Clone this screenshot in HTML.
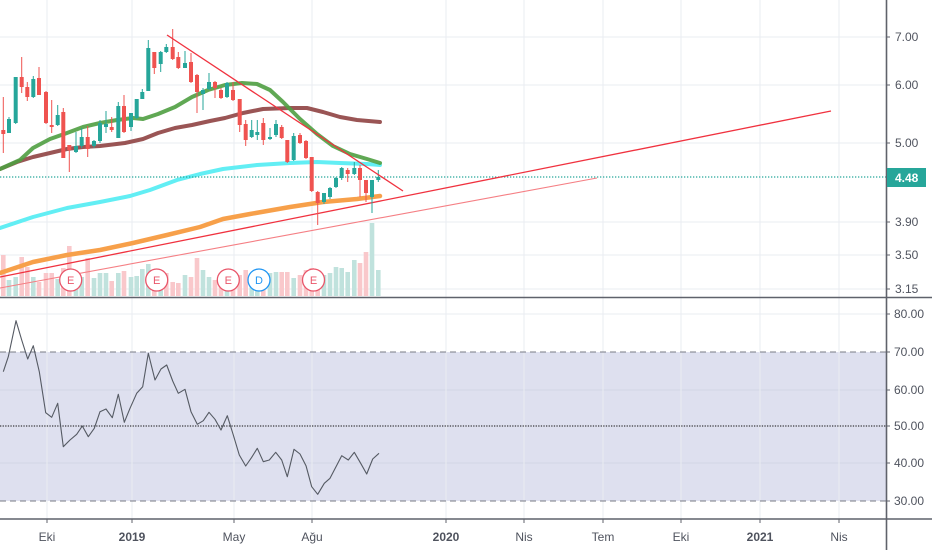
<!DOCTYPE html>
<html><head><meta charset="utf-8"><style>
html,body{margin:0;padding:0;background:#fff;}
svg{display:block;font-family:"Liberation Sans",sans-serif;}
</style></head><body>
<svg width="932" height="550" viewBox="0 0 932 550" xmlns="http://www.w3.org/2000/svg">
<rect width="932" height="550" fill="#fff"/>
<!-- RSI band -->
<rect x="0" y="352" width="886" height="149" fill="#dee0ef"/>
<!-- grid -->
<g stroke="#eaecf2" stroke-width="1">
<line x1="0" y1="37" x2="886" y2="37"/><line x1="0" y1="85" x2="886" y2="85"/><line x1="0" y1="143" x2="886" y2="143"/><line x1="0" y1="222" x2="886" y2="222"/><line x1="0" y1="255" x2="886" y2="255"/><line x1="0" y1="289" x2="886" y2="289"/>
<line x1="0" y1="314" x2="886" y2="314"/><line x1="0" y1="390" x2="886" y2="390" stroke="#d3d6e6"/><line x1="0" y1="463" x2="886" y2="463" stroke="#d3d6e6"/>
<line x1="47" y1="0" x2="47" y2="519"/><line x1="132" y1="0" x2="132" y2="519"/><line x1="234" y1="0" x2="234" y2="519"/><line x1="312" y1="0" x2="312" y2="519"/><line x1="446" y1="0" x2="446" y2="519"/><line x1="524" y1="0" x2="524" y2="519"/><line x1="603" y1="0" x2="603" y2="519"/><line x1="681" y1="0" x2="681" y2="519"/><line x1="760" y1="0" x2="760" y2="519"/><line x1="839" y1="0" x2="839" y2="519"/>
</g>
<!-- volume -->
<g>
<rect x="1" y="255" width="4.6" height="41" fill="#f9c8cb"/>
<rect x="6.7" y="280" width="4.6" height="16" fill="#c0e2dd"/>
<rect x="13.4" y="277" width="4.6" height="19" fill="#c0e2dd"/>
<rect x="19.4" y="257" width="4.6" height="39" fill="#f9c8cb"/>
<rect x="25" y="267" width="4.6" height="29" fill="#f9c8cb"/>
<rect x="31" y="277" width="4.6" height="19" fill="#c0e2dd"/>
<rect x="36.7" y="282" width="4.6" height="14" fill="#f9c8cb"/>
<rect x="43.7" y="273" width="4.6" height="23" fill="#f9c8cb"/>
<rect x="49.4" y="273" width="4.6" height="23" fill="#f9c8cb"/>
<rect x="55.4" y="279" width="4.6" height="17" fill="#c0e2dd"/>
<rect x="61" y="268" width="4.6" height="28" fill="#f9c8cb"/>
<rect x="67" y="246" width="4.6" height="50" fill="#f9c8cb"/>
<rect x="73.7" y="275" width="4.6" height="21" fill="#c0e2dd"/>
<rect x="79.4" y="277" width="4.6" height="19" fill="#c0e2dd"/>
<rect x="85.4" y="258" width="4.6" height="38" fill="#f9c8cb"/>
<rect x="91.7" y="278" width="4.6" height="18" fill="#c0e2dd"/>
<rect x="97.7" y="273" width="4.6" height="23" fill="#c0e2dd"/>
<rect x="103.7" y="273" width="4.6" height="23" fill="#c0e2dd"/>
<rect x="109.4" y="281" width="4.6" height="15" fill="#f9c8cb"/>
<rect x="116" y="273" width="4.6" height="23" fill="#c0e2dd"/>
<rect x="121.7" y="271" width="4.6" height="25" fill="#f9c8cb"/>
<rect x="128.7" y="277" width="4.6" height="19" fill="#c0e2dd"/>
<rect x="134.4" y="276" width="4.6" height="20" fill="#c0e2dd"/>
<rect x="140" y="269" width="4.6" height="27" fill="#c0e2dd"/>
<rect x="146" y="264" width="4.6" height="32" fill="#c0e2dd"/>
<rect x="152" y="270" width="4.6" height="26" fill="#f9c8cb"/>
<rect x="158.4" y="275" width="4.6" height="21" fill="#c0e2dd"/>
<rect x="164" y="273" width="4.6" height="23" fill="#f9c8cb"/>
<rect x="170.4" y="282" width="4.6" height="14" fill="#f9c8cb"/>
<rect x="176" y="283" width="4.6" height="13" fill="#f9c8cb"/>
<rect x="182.7" y="275" width="4.6" height="21" fill="#c0e2dd"/>
<rect x="188.7" y="277" width="4.6" height="19" fill="#f9c8cb"/>
<rect x="194.7" y="258" width="4.6" height="38" fill="#f9c8cb"/>
<rect x="200.7" y="270" width="4.6" height="26" fill="#c0e2dd"/>
<rect x="206.7" y="277" width="4.6" height="19" fill="#c0e2dd"/>
<rect x="212.7" y="280" width="4.6" height="16" fill="#f9c8cb"/>
<rect x="218.7" y="276" width="4.6" height="20" fill="#f9c8cb"/>
<rect x="224.7" y="275" width="4.6" height="21" fill="#c0e2dd"/>
<rect x="230.7" y="277" width="4.6" height="19" fill="#f9c8cb"/>
<rect x="237.4" y="275" width="4.6" height="21" fill="#f9c8cb"/>
<rect x="243.4" y="270" width="4.6" height="26" fill="#f9c8cb"/>
<rect x="249.4" y="276" width="4.6" height="20" fill="#c0e2dd"/>
<rect x="255" y="274" width="4.6" height="22" fill="#c0e2dd"/>
<rect x="261" y="277" width="4.6" height="19" fill="#f9c8cb"/>
<rect x="267.7" y="273" width="4.6" height="23" fill="#c0e2dd"/>
<rect x="273.7" y="272" width="4.6" height="24" fill="#c0e2dd"/>
<rect x="279.4" y="272" width="4.6" height="24" fill="#f9c8cb"/>
<rect x="285" y="272" width="4.6" height="24" fill="#f9c8cb"/>
<rect x="291.4" y="278" width="4.6" height="18" fill="#c0e2dd"/>
<rect x="297.7" y="275" width="4.6" height="21" fill="#f9c8cb"/>
<rect x="303.7" y="270" width="4.6" height="26" fill="#f9c8cb"/>
<rect x="309.4" y="268" width="4.6" height="28" fill="#f9c8cb"/>
<rect x="315.4" y="272" width="4.6" height="24" fill="#f9c8cb"/>
<rect x="321.7" y="275" width="4.6" height="21" fill="#c0e2dd"/>
<rect x="327.7" y="273" width="4.6" height="23" fill="#c0e2dd"/>
<rect x="333.7" y="267" width="4.6" height="29" fill="#c0e2dd"/>
<rect x="339.4" y="268" width="4.6" height="28" fill="#c0e2dd"/>
<rect x="345.4" y="272" width="4.6" height="24" fill="#c0e2dd"/>
<rect x="352" y="260" width="4.6" height="36" fill="#c0e2dd"/>
<rect x="357.7" y="263" width="4.6" height="33" fill="#f9c8cb"/>
<rect x="363.7" y="252" width="4.6" height="44" fill="#f9c8cb"/>
<rect x="369.7" y="223" width="4.6" height="73" fill="#c0e2dd"/>
<rect x="376" y="270" width="4.6" height="26" fill="#c0e2dd"/>
</g>
<!-- moving averages -->
<g fill="none" stroke-linejoin="round" stroke-linecap="round">
<polyline stroke="#f7a04a" stroke-width="4.5" points="0,273 33,262 67,255 100,250 133,243 167,235 200,227 223,219 250,214 290,207 323,202 357,199 380,196"/>
<polyline stroke="#62eef4" stroke-width="4" points="0,228 33,217 67,208 100,202 130,196 150,190 177,180 200,174 223,169 257,165 290,163 317,162 340,163 367,164 380,165"/>
<polyline stroke="#8f4343" stroke-opacity="0.9" stroke-width="4" points="0,169 17,162 33,157 50,153 67,149 83,147 100,146 125,143 143,139 158,133 175,128 192,125 210,121 225,118 243,113 263,109 290,108 307,108 323,112 340,117 357,120 380,122"/>
<polyline stroke="#4f9f41" stroke-opacity="0.9" stroke-width="4" points="0,169 20,160 33,148 50,139 67,133 83,127 100,123 117,120 133,118 143,119 158,114 175,107 192,97 208,90 225,85 242,83 257,84 270,90 283,102 300,119 317,134 333,146 350,154 367,159 380,163"/>
</g>
<!-- price line -->
<line x1="0" y1="177" x2="886" y2="177" stroke="#26a69a" stroke-width="1.2" stroke-dasharray="1.3,1.7"/>
<!-- trend lines -->
<line x1="0" y1="288" x2="597" y2="178" stroke="#f57f84" stroke-width="1.1"/>
<line x1="0" y1="277" x2="831" y2="111" stroke="#f0323f" stroke-width="1.3"/>
<!-- candles -->
<g stroke-width="1">
<g stroke="#ef5350" fill="#ef5350">
<line x1="3.3" y1="97" x2="3.3" y2="153"/><rect x="1.3" y="130" width="4" height="4" stroke="none"/>
<line x1="21.7" y1="57" x2="21.7" y2="93"/><rect x="19.7" y="77" width="4" height="10" stroke="none"/>
<line x1="27.3" y1="82" x2="27.3" y2="101"/><rect x="25.3" y="87" width="4" height="10" stroke="none"/>
<line x1="39" y1="67" x2="39" y2="95"/><rect x="37" y="78" width="4" height="17" stroke="none"/>
<line x1="46" y1="91" x2="46" y2="124"/><rect x="44" y="92" width="4" height="31" stroke="none"/>
<line x1="51.7" y1="100" x2="51.7" y2="133"/><rect x="49.7" y="125" width="4" height="2" stroke="none"/>
<line x1="63.3" y1="108" x2="63.3" y2="158"/><rect x="61.3" y="112" width="4" height="46" stroke="none"/>
<line x1="69.3" y1="145" x2="69.3" y2="172"/><rect x="67.3" y="145" width="4" height="5" stroke="none"/>
<line x1="87.7" y1="126" x2="87.7" y2="157"/><rect x="85.7" y="137" width="4" height="12" stroke="none"/>
<line x1="111.7" y1="117" x2="111.7" y2="132"/><rect x="109.7" y="127" width="4" height="3" stroke="none"/>
<line x1="124" y1="95" x2="124" y2="133"/><rect x="122" y="106" width="4" height="26" stroke="none"/>
<line x1="154.3" y1="52" x2="154.3" y2="74"/><rect x="152.3" y="52" width="4" height="16" stroke="none"/>
<line x1="172.7" y1="29" x2="172.7" y2="60"/><rect x="170.7" y="47" width="4" height="12" stroke="none"/>
<line x1="178.3" y1="52" x2="178.3" y2="69"/><rect x="176.3" y="57" width="4" height="11" stroke="none"/>
<line x1="191" y1="53" x2="191" y2="83"/><rect x="189" y="62" width="4" height="20" stroke="none"/>
<line x1="197" y1="74" x2="197" y2="113"/><rect x="195" y="75" width="4" height="17" stroke="none"/>
<line x1="215" y1="81" x2="215" y2="98"/><rect x="213" y="82" width="4" height="6" stroke="none"/>
<line x1="221" y1="88" x2="221" y2="99"/><rect x="219" y="90" width="4" height="8" stroke="none"/>
<line x1="233" y1="82" x2="233" y2="101"/><rect x="231" y="90" width="4" height="10" stroke="none"/>
<line x1="239.7" y1="99" x2="239.7" y2="132"/><rect x="237.7" y="99" width="4" height="26" stroke="none"/>
<line x1="245.7" y1="120" x2="245.7" y2="146"/><rect x="243.7" y="124" width="4" height="16" stroke="none"/>
<line x1="263.3" y1="118" x2="263.3" y2="145"/><rect x="261.3" y="123" width="4" height="17" stroke="none"/>
<line x1="281.7" y1="125" x2="281.7" y2="139"/><rect x="279.7" y="127" width="4" height="11" stroke="none"/>
<line x1="287.3" y1="140" x2="287.3" y2="163"/><rect x="285.3" y="140" width="4" height="22" stroke="none"/>
<line x1="300" y1="133" x2="300" y2="144"/><rect x="298" y="135" width="4" height="8" stroke="none"/>
<line x1="306" y1="140" x2="306" y2="159"/><rect x="304" y="141" width="4" height="17" stroke="none"/>
<line x1="311.7" y1="157" x2="311.7" y2="192"/><rect x="309.7" y="157" width="4" height="34" stroke="none"/>
<line x1="317.7" y1="191" x2="317.7" y2="225"/><rect x="315.7" y="192" width="4" height="11" stroke="none"/>
<line x1="347.7" y1="168" x2="347.7" y2="182"/><rect x="345.7" y="170" width="4" height="4" stroke="none"/>
<line x1="360" y1="165" x2="360" y2="197"/><rect x="358" y="168" width="4" height="12" stroke="none"/>
<line x1="366" y1="180" x2="366" y2="202"/><rect x="364" y="180" width="4" height="13" stroke="none"/>
</g>
<g stroke="#26a69a" fill="#26a69a">
<line x1="9" y1="117" x2="9" y2="133"/><rect x="7" y="119" width="4" height="14" stroke="none"/>
<line x1="15.7" y1="77" x2="15.7" y2="124"/><rect x="13.7" y="77" width="4" height="46" stroke="none"/>
<line x1="33.3" y1="76" x2="33.3" y2="98"/><rect x="31.3" y="79" width="4" height="18" stroke="none"/>
<line x1="57.7" y1="105" x2="57.7" y2="126"/><rect x="55.7" y="115" width="4" height="10" stroke="none"/>
<line x1="76" y1="132" x2="76" y2="153"/><rect x="74" y="146" width="4" height="6" stroke="none"/>
<line x1="81.7" y1="128" x2="81.7" y2="148"/><rect x="79.7" y="137" width="4" height="9" stroke="none"/>
<line x1="94" y1="140" x2="94" y2="148"/><rect x="92" y="141" width="4" height="5" stroke="none"/>
<line x1="100" y1="120" x2="100" y2="143"/><rect x="98" y="123" width="4" height="18" stroke="none"/>
<line x1="106" y1="111" x2="106" y2="133"/><rect x="104" y="124" width="4" height="3" stroke="none"/>
<line x1="118.3" y1="102" x2="118.3" y2="138"/><rect x="116.3" y="106" width="4" height="32" stroke="none"/>
<line x1="131" y1="113" x2="131" y2="131"/><rect x="129" y="113" width="4" height="14" stroke="none"/>
<line x1="136.7" y1="99" x2="136.7" y2="119"/><rect x="134.7" y="99" width="4" height="19" stroke="none"/>
<line x1="142.3" y1="89" x2="142.3" y2="99"/><rect x="140.3" y="92" width="4" height="7" stroke="none"/>
<line x1="148.3" y1="40" x2="148.3" y2="91"/><rect x="146.3" y="48" width="4" height="43" stroke="none"/>
<line x1="160.7" y1="51" x2="160.7" y2="72"/><rect x="158.7" y="52" width="4" height="12" stroke="none"/>
<line x1="166.3" y1="44" x2="166.3" y2="53"/><rect x="164.3" y="47" width="4" height="5" stroke="none"/>
<line x1="185" y1="51" x2="185" y2="68"/><rect x="183" y="63" width="4" height="5" stroke="none"/>
<line x1="203" y1="88" x2="203" y2="110"/><rect x="201" y="90" width="4" height="4" stroke="none"/>
<line x1="209" y1="73" x2="209" y2="90"/><rect x="207" y="82" width="4" height="7" stroke="none"/>
<line x1="227" y1="82" x2="227" y2="98"/><rect x="225" y="83" width="4" height="14" stroke="none"/>
<line x1="251.7" y1="120" x2="251.7" y2="138"/><rect x="249.7" y="130" width="4" height="7" stroke="none"/>
<line x1="257.3" y1="120" x2="257.3" y2="140"/><rect x="255.3" y="132" width="4" height="3" stroke="none"/>
<line x1="270" y1="128" x2="270" y2="140"/><rect x="268" y="137" width="4" height="2" stroke="none"/>
<line x1="276" y1="120" x2="276" y2="137"/><rect x="274" y="124" width="4" height="11" stroke="none"/>
<line x1="293.7" y1="133" x2="293.7" y2="161"/><rect x="291.7" y="136" width="4" height="24" stroke="none"/>
<line x1="324" y1="193" x2="324" y2="204"/><rect x="322" y="193" width="4" height="9" stroke="none"/>
<line x1="330" y1="187" x2="330" y2="199"/><rect x="328" y="188" width="4" height="9" stroke="none"/>
<line x1="336" y1="177" x2="336" y2="188"/><rect x="334" y="178" width="4" height="9" stroke="none"/>
<line x1="341.7" y1="167" x2="341.7" y2="180"/><rect x="339.7" y="168" width="4" height="10" stroke="none"/>
<line x1="354.3" y1="162" x2="354.3" y2="175"/><rect x="352.3" y="168" width="4" height="6" stroke="none"/>
<line x1="372" y1="180" x2="372" y2="213"/><rect x="370" y="180" width="4" height="17" stroke="none"/>
<line x1="378.3" y1="170" x2="378.3" y2="182"/><rect x="376.3" y="177" width="4" height="3" stroke="none"/>
</g>
</g>
<line x1="167" y1="35" x2="403" y2="191" stroke="#f0323f" stroke-width="1.3"/>
<!-- event markers -->
<g font-size="11" text-anchor="middle" stroke-width="1.3">
<circle cx="70.7" cy="280" r="11" fill="#fff" stroke="#e9566a"/><text x="70.7" y="284" fill="#e9566a" stroke="none">E</text>
<circle cx="156.7" cy="280" r="11" fill="#fff" stroke="#e9566a"/><text x="156.7" y="284" fill="#e9566a" stroke="none">E</text>
<circle cx="228.3" cy="280" r="11" fill="#fff" stroke="#e9566a"/><text x="228.3" y="284" fill="#e9566a" stroke="none">E</text>
<circle cx="259" cy="280" r="11" fill="#fff" stroke="#2196f3"/><text x="259" y="284" fill="#2196f3" stroke="none">D</text>
<circle cx="313.5" cy="280" r="11" fill="#fff" stroke="#e9566a"/><text x="313.5" y="284" fill="#e9566a" stroke="none">E</text>
</g>
<!-- RSI levels -->
<line x1="0" y1="352" x2="886" y2="352" stroke="#787b86" stroke-width="1" stroke-dasharray="6,4"/>
<line x1="0" y1="501" x2="886" y2="501" stroke="#787b86" stroke-width="1" stroke-dasharray="6,4"/>
<line x1="0" y1="426" x2="886" y2="426" stroke="#111" stroke-width="1" stroke-dasharray="1.3,1.3"/>
<polyline fill="none" stroke="#555a63" stroke-width="1.1" stroke-linejoin="round" points="3.3,371.7 8.3,356.7 16,320.7 21.7,340 27.7,359 33.3,345.7 39.3,371.7 45.7,412.7 51.7,417.3 57.7,403.3 63.3,446.7 70,440 76.7,434.3 82.3,426 88.3,436.7 94.3,428.3 100,411.7 106,409 112.3,417.7 118.3,394.3 124.3,422.3 130,408.3 136.7,393.3 142.7,386.7 148.3,353.3 155,380 161,369 166.7,365 172.7,381 178.3,393.3 185,389.3 191,411.7 197.3,424.3 203.3,420.7 209,412.3 215,419.3 221,430 227.3,415.7 233.3,435 239.3,455 245.7,466 251.7,457.3 257.3,448.3 263.3,461.7 269.3,460 275.7,452.3 281.7,460 287.3,476.7 294,449.3 300,454 306,465.7 311.7,486.7 317.7,494.3 324.3,483.3 330,478.3 336,466.7 341.7,455.7 348.3,460 354.3,452.3 360.7,463.3 366.7,474 372.7,459 379,453.3"/>
<!-- axes -->
<line x1="0" y1="297.5" x2="932" y2="297.5" stroke="#5f626b" stroke-width="1.6"/>
<line x1="0" y1="519" x2="932" y2="519" stroke="#5f626b" stroke-width="1.6"/>
<line x1="886.5" y1="0" x2="886.5" y2="550" stroke="#5f626b" stroke-width="1.6"/>
<g stroke="#5f626b" stroke-width="1">
<line x1="886" y1="37" x2="890" y2="37"/><line x1="886" y1="85" x2="890" y2="85"/><line x1="886" y1="143" x2="890" y2="143"/><line x1="886" y1="222" x2="890" y2="222"/><line x1="886" y1="255" x2="890" y2="255"/><line x1="886" y1="289" x2="890" y2="289"/>
<line x1="886" y1="314" x2="890" y2="314"/><line x1="886" y1="352" x2="890" y2="352"/><line x1="886" y1="390" x2="890" y2="390"/><line x1="886" y1="426" x2="890" y2="426"/><line x1="886" y1="463" x2="890" y2="463"/><line x1="886" y1="501" x2="890" y2="501"/>
<line x1="47" y1="519" x2="47" y2="523"/><line x1="132" y1="519" x2="132" y2="523"/><line x1="234" y1="519" x2="234" y2="523"/><line x1="312" y1="519" x2="312" y2="523"/><line x1="446" y1="519" x2="446" y2="523"/><line x1="524" y1="519" x2="524" y2="523"/><line x1="603" y1="519" x2="603" y2="523"/><line x1="681" y1="519" x2="681" y2="523"/><line x1="760" y1="519" x2="760" y2="523"/><line x1="839" y1="519" x2="839" y2="523"/>
</g>
<g font-size="12" fill="#4f535e">
<text x="895" y="41">7.00</text><text x="895" y="89">6.00</text><text x="895" y="147">5.00</text><text x="895" y="226">3.90</text><text x="895" y="259">3.50</text><text x="895" y="293">3.15</text>
<text x="894" y="318">80.00</text><text x="894" y="356">70.00</text><text x="894" y="394">60.00</text><text x="894" y="430">50.00</text><text x="894" y="467">40.00</text><text x="894" y="505">30.00</text>
</g>
<rect x="887" y="168" width="39" height="19" fill="#26a69a"/>
<text x="895" y="182" font-size="12" fill="#fff" font-weight="bold">4.48</text>
<g font-size="12" fill="#4f535e" text-anchor="middle">
<text x="47" y="541">Eki</text><text x="132" y="541" font-weight="bold">2019</text><text x="234" y="541">May</text><text x="312" y="541">Ağu</text><text x="446" y="541" font-weight="bold">2020</text><text x="524" y="541">Nis</text><text x="603" y="541">Tem</text><text x="681" y="541">Eki</text><text x="760" y="541" font-weight="bold">2021</text><text x="839" y="541">Nis</text>
</g>
</svg>
</body></html>
